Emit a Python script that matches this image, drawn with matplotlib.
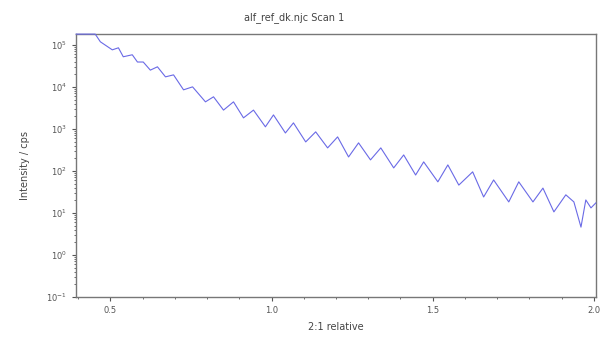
import matplotlib
matplotlib.use('Agg')
import matplotlib.pyplot as plt
from matplotlib.ticker import LogLocator, MultipleLocator

# scan axis (2:1 relative) and intensity (cps)
two_theta = [0.394, 0.453, 0.469, 0.506, 0.525, 0.540, 0.568, 0.584, 0.602, 0.624,
             0.646, 0.671, 0.696, 0.727, 0.755, 0.795, 0.820, 0.851, 0.882, 0.913,
             0.944, 0.981, 1.006, 1.043, 1.068, 1.106, 1.137, 1.174, 1.205, 1.239,
             1.270, 1.307, 1.339, 1.379, 1.410, 1.447, 1.472, 1.516, 1.547, 1.581,
             1.624, 1.658, 1.689, 1.736, 1.767, 1.811, 1.842, 1.876, 1.913, 1.938,
             1.960, 1.975, 1.991, 2.006]
intensity = [1.8e5, 1.8e5, 1.18e5, 7.6e4, 8.5e4, 5.2e4, 5.8e4, 3.9e4, 3.9e4, 2.5e4,
             3.0e4, 1.73e4, 1.93e4, 8.5e3, 1.0e4, 4.4e3, 5.8e3, 2.8e3, 4.4e3, 1.83e3,
             2.8e3, 1.12e3, 2.15e3, 800, 1.39e3, 490, 850, 353, 645, 215,
             465, 183, 353, 118, 240, 80, 164, 55, 139, 46,
             95, 24, 61, 18.3, 55, 18.3, 39, 10.6, 27, 18.3,
             4.6, 20.4, 13.2, 17.3]

fig = plt.figure(figsize=(6, 3.41), dpi=100)
ax = fig.add_axes([0.127, 0.129, 0.866, 0.771])

ax.plot(two_theta, intensity, color='#6a6ae6', linewidth=0.8,
        zorder=3, clip_on=False)
ax.set_yscale('log')
ax.set_xlim(0.394, 2.006)
ax.set_ylim(0.1, 1.8e5)

ax.xaxis.set_major_locator(MultipleLocator(0.5))
ax.xaxis.set_minor_locator(MultipleLocator(0.1))
ax.yaxis.set_major_locator(LogLocator(base=10, numticks=10))
ax.xaxis.set_major_formatter(plt.FuncFormatter(lambda v, p: f'{v:.1f}'))

ax.tick_params(labelsize=6, colors='#555555', length=3, width=0.8)
ax.tick_params(which='minor', length=1.5, width=0.6, colors='#555555')
for s in ax.spines.values():
    s.set_color('#777777')
    s.set_linewidth(1.0)

ax.set_xlabel('2:1 relative', fontsize=7, color='#444444', labelpad=5)
ax.set_ylabel('Intensity / cps', fontsize=7, color='#444444', labelpad=12)
fig.suptitle('alf_ref_dk.njc Scan 1', x=0.49, y=0.965, fontsize=7, color='#444444')

plt.savefig('out.png', dpi=100)
